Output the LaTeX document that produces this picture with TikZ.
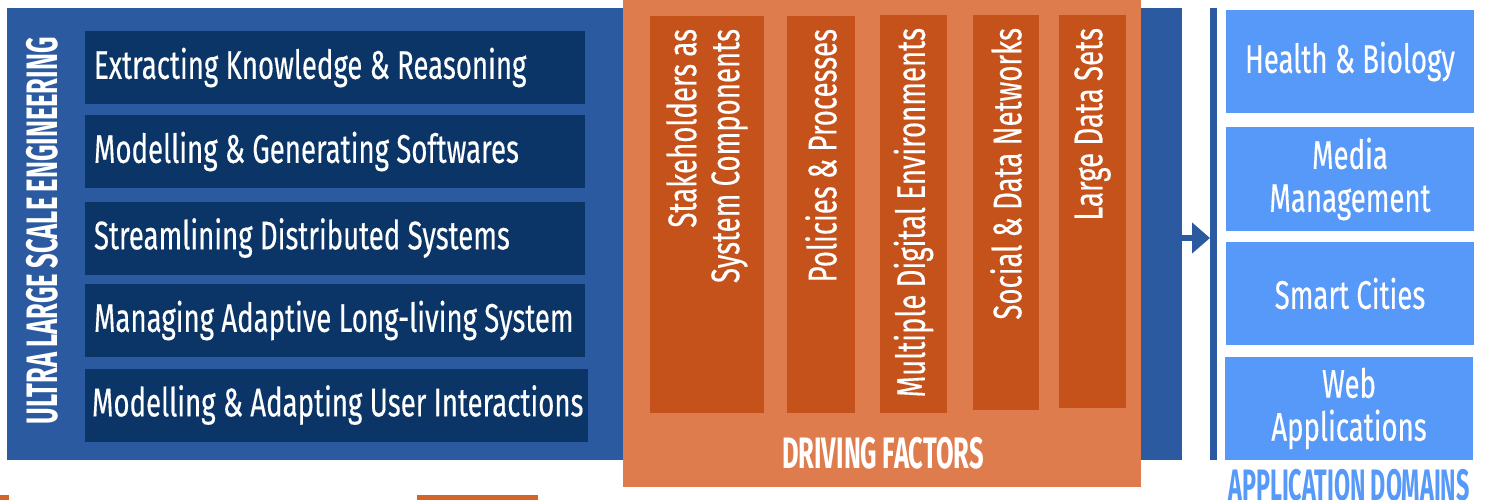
\documentclass[tikz,border=0pt]{standalone}
\usepackage{fontspec}
\newfontfamily\regf[FakeStretch=0.69,WordSpace=1.0,FakeBold=0.3]{Fira Sans}
\newfontfamily\bldf[FakeStretch=0.58,WordSpace=0.9]{Fira Sans}
\newfontfamily\bldn[FakeStretch=0.53,WordSpace=0.9]{Fira Sans}
\newcommand\linel[1]{\hbox to \linewidth{#1\hss}}
\newcommand\liner[1]{\hbox to \linewidth{\hss#1}}
\usetikzlibrary{fit,arrows.meta}
\definecolor{bigblue}{HTML}{2C5AA0}
\definecolor{navy}{HTML}{0A3566}
\definecolor{orangeA}{HTML}{DF7C4E}
\definecolor{orangeB}{HTML}{C6521B}
\definecolor{lightblue}{HTML}{5799F9}
\definecolor{barorange}{HTML}{D4652A}
\tikzset{
  plain/.style={inner sep=0pt, outer sep=0pt},
  txt/.style={text=white, font=\regf\fontsize{40}{43}\selectfont},
  title/.style={text=white, font=\bldf\bfseries\fontsize{44}{46}\selectfont, inner sep=0pt},
  leftbox/.style={txt, fill=navy, minimum width=500pt, minimum height=73pt, inner xsep=9pt, inner ysep=0pt,
     text width=482pt, align=flush left, outer sep=0pt},
  colbox/.style={txt, fill=orangeB, rotate=90, inner xsep=13pt, inner ysep=0pt, align=flush right, outer sep=0pt},
  appbox/.style={txt, fill=lightblue, minimum width=248pt, minimum height=103pt, align=center, inner sep=0pt},
}
\begin{document}
\begin{tikzpicture}[x=1pt,y=-1pt]
\useasboundingbox (0,0) rectangle (1492,500);
% main blue panel
\node[plain, fill=bigblue, fit={(7,8) (1182,460)}] (ule) {};
\node[title, rotate=90] (ultitle) at (42,231) {ULTRA LARGE SCALE ENGINEERING};
\node[leftbox] (k1) at (335,67.5) {\linel{Extracting Knowledge \& Reasoning}};
\node[leftbox] (k2) at (335,151.5) {\linel{Modelling \& Generating Softwares}};
\node[leftbox] (k3) at (335,238) {\linel{Streamlining Distributed Systems}};
\node[leftbox] (k4) at (335,320.5) {\linel{Managing Adaptive Long-living System}};
\node[leftbox, minimum width=503pt, inner xsep=7pt, text width=489pt] (k5) at (336.5,405) {\linel{Modelling \& Adapting User Interactions}};
% driving factors
\node[plain, fill=orangeA, fit={(623,0) (1141,487)}] (df) {};
\node[colbox, minimum width=397pt, minimum height=114pt, text width=371pt] (c1) at (707,214.5) {Stakeholders as\\System Components};
\node[colbox, minimum width=397pt, minimum height=68pt, text width=371pt] (c2) at (821,214.5) {\liner{Policies \& Processes}};
\node[colbox, minimum width=398pt, minimum height=67pt, text width=372pt] (c3) at (913.5,214) {\liner{Multiple Digital Environments}};
\node[colbox, minimum width=395pt, minimum height=66pt, text width=369pt] (c4) at (1006,212.5) {\liner{Social \& Data Networks}};
\node[colbox, minimum width=393pt, minimum height=67pt, text width=367pt] (c5) at (1092.5,211.5) {\liner{Large Data Sets}};
\node[title, anchor=base] (dftitle) at (883,468) {DRIVING FACTORS};
% connector to application domains
\node[plain, fill=bigblue, fit={(1210,8) (1217,460)}] (bar) {};
\draw[bigblue, line width=6pt, -{Triangle[length=18pt,width=30pt]}] ([yshift=-4pt]ule.east) -- ([yshift=-4pt]bar.west);
% application domains
\node[appbox] (a1) at (1350,61.5) {Health \& Biology};
\node[appbox] (a2) at (1350,179) {Media\\Management};
\node[appbox] (a3) at (1350,293.5) {Smart Cities};
\node[appbox] (a4) at (1349,408.5) {Web\\Applications};
\node[title, font=\bldn\bfseries\fontsize{44}{46}\selectfont, text=lightblue, anchor=base] (adtitle) at (1349,500) {APPLICATION DOMAINS};
% bottom strips
\node[plain, fill=barorange, fit={(0,495) (9,500)}] (s1) {};
\node[plain, fill=barorange, fit={(417,495) (538,500)}] (s2) {};
\end{tikzpicture}
\end{document}
